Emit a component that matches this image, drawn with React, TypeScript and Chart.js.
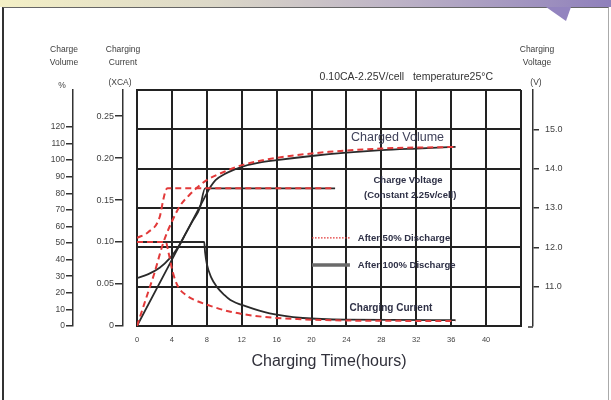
import React, { useEffect, useRef } from 'react';
import { Chart, registerables } from 'chart.js';

Chart.register(...registerables);

// ---- axis ticks ----
const timeTicks = [0, 4, 8, 12, 16, 20, 24, 28, 32, 36, 40];
const timeMax = 44;
const volumeTicks = [0, 10, 20, 30, 40, 50, 60, 70, 80, 90, 100, 110, 120];
const volumeMax = 142.3;
const currentTicks = [0, 0.05, 0.1, 0.15, 0.2, 0.25];
const currentMax = 0.281;
const voltageTicks = [11, 12, 13, 14, 15];
const voltageMin = 10;
const voltageMax = 16;
const gridRows = [0, 1, 2, 3, 4, 5, 6];

// ---- After 50% discharge (red dashed) ----
const vol50Hours = [0, 1, 2, 3, 4, 5, 6, 7, 8, 10, 12, 14.5, 17.5, 22, 28, 36.5];
const vol50Values = [0, 16, 32, 50, 63, 73, 79, 84, 88, 93, 97, 100, 102.5, 105, 107, 108];
const volt50Hours = [0, 1.3, 2.6, 3.0, 3.3, 3.5, 22.7];
const volt50Values = [12.24, 12.39, 12.77, 13.2, 13.45, 13.5, 13.5];
const cur50Hours = [0, 3.3, 3.6, 4.1, 4.7, 5.6, 6.6, 8.4, 10.7, 14.4, 19, 24, 36.5];
const cur50Values = [0.1, 0.1, 0.088, 0.064, 0.047, 0.037, 0.031, 0.024, 0.017, 0.011, 0.008, 0.0065, 0.006];

// ---- After 100% discharge (black solid) ----
const vol100Hours = [0, 7.5, 8, 8.5, 9, 10, 11, 12, 14, 16, 20, 24, 28, 32, 36.5];
const vol100Values = [0, 75, 80, 84.5, 88, 91.5, 94, 96, 98.5, 100, 102.5, 104.5, 106, 107, 108];
const volt100Hours = [0, 1.3, 2.6, 3.8, 4.7, 5.6, 6.4, 7.2, 7.8, 22.7];
const volt100Values = [11.22, 11.32, 11.48, 11.73, 12.0, 12.36, 12.68, 13.0, 13.5, 13.5];
const cur100Hours = [0, 7.7, 7.8, 8.0, 8.5, 9.2, 10, 10.7, 12.6, 15.2, 19, 24, 36.5];
const cur100Values = [0.1, 0.1, 0.088, 0.074, 0.058, 0.046, 0.037, 0.031, 0.023, 0.015, 0.0095, 0.0075, 0.007];

// ---- texts ----
const headerVolume = ['Charge', 'Volume'];
const headerCurrent = ['Charging', 'Current'];
const headerVoltage = ['Charging', 'Voltage'];
const conditionText = '0.10CA-2.25V/cell   temperature25°C';
const legend50 = 'After 50% Discharge';
const legend100 = 'After 100% Discharge';

const FONT = '"Liberation Sans", Arial, sans-serif';
const RED = '#e23a3a';
const BLACK = '#2a2a2a';
const GRID = '#222';
const TICK = '#444';

const pts = (xs: number[], ys: number[]) => xs.map((x, i) => ({ x, y: ys[i] }));

const redLine = (label: string, data: any, yAxisID: string) => ({
  label,
  data,
  yAxisID,
  borderColor: RED,
  borderWidth: 2,
  borderDash: [6, 4],
  pointRadius: 0,
  fill: false,
  cubicInterpolationMode: 'monotone' as const,
});
const blackLine = (label: string, data: any, yAxisID: string) => ({
  label,
  data,
  yAxisID,
  borderColor: BLACK,
  borderWidth: 1.8,
  pointRadius: 0,
  fill: false,
  cubicInterpolationMode: 'monotone' as const,
});

const textPlugin = {
  id: 'chartTexts',
  afterDraw(chart: any) {
    const { ctx, chartArea, scales } = chart;
    const x = scales.x;
    const vol = scales.volume;
    const cur = scales.current;
    const volt = scales.voltage;
    const f = (size: number, weight = 'normal') => `${weight} ${size}px ${FONT}`;
    ctx.save();
    ctx.textBaseline = 'middle';
    ctx.textAlign = 'center';

    // axis headers
    ctx.fillStyle = '#3c3c3c';
    ctx.font = f(8.5);
    ctx.fillText(headerVolume[0], vol.right - 9, 50);
    ctx.fillText(headerVolume[1], vol.right - 9, 63);
    ctx.fillText('%', vol.right - 11, 86);
    ctx.fillText(headerCurrent[0], cur.right, 50);
    ctx.fillText(headerCurrent[1], cur.right, 63);
    ctx.fillText('(XCA)', cur.right - 3, 83);
    ctx.fillText(headerVoltage[0], volt.left + 4, 50);
    ctx.fillText(headerVoltage[1], volt.left + 4, 63);
    ctx.fillText('(V)', volt.left + 3, 83);

    // condition text
    ctx.textAlign = 'right';
    ctx.font = f(10.5);
    ctx.fillStyle = '#333';
    ctx.fillText(conditionText, chartArea.right - 28, 77);

    // curve labels
    ctx.textAlign = 'center';
    ctx.fillStyle = '#40425a';
    ctx.font = f(12.5);
    ctx.fillText('Charged Volume', x.getPixelForValue(29.85), vol.getPixelForValue(113.4));
    ctx.font = f(9.5, 'bold');
    ctx.fillStyle = '#2e3046';
    ctx.fillText('Charge Voltage', x.getPixelForValue(31.05), volt.getPixelForValue(13.69));
    ctx.fillText('(Constant 2.25v/cell)', x.getPixelForValue(31.3), volt.getPixelForValue(13.31));
    ctx.font = f(10, 'bold');
    ctx.fillText('Charging Current', x.getPixelForValue(29.1), cur.getPixelForValue(0.0214));

    // legend
    const lx1 = x.getPixelForValue(20.05);
    const lx2 = x.getPixelForValue(24.4);
    const ly1 = volt.getPixelForValue(12.24);
    const ly2 = volt.getPixelForValue(11.55);
    ctx.strokeStyle = RED;
    ctx.lineWidth = 1.4;
    ctx.setLineDash([1.6, 1.4]);
    ctx.beginPath();
    ctx.moveTo(lx1, ly1);
    ctx.lineTo(lx2, ly1);
    ctx.stroke();
    ctx.setLineDash([]);
    ctx.strokeStyle = '#6a6a6a';
    ctx.lineWidth = 3.5;
    ctx.beginPath();
    ctx.moveTo(lx1, ly2);
    ctx.lineTo(lx2, ly2);
    ctx.stroke();
    ctx.textAlign = 'left';
    ctx.font = f(9.5, 'bold');
    ctx.fillStyle = '#2e3046';
    const tx = x.getPixelForValue(25.3);
    ctx.fillText(legend50, tx, ly1);
    ctx.fillText(legend100, tx, ly2);

    // small foot at bottom of voltage axis
    ctx.strokeStyle = '#333';
    ctx.lineWidth = 1.5;
    ctx.beginPath();
    ctx.moveTo(volt.left - 5, chartArea.bottom + 1);
    ctx.lineTo(volt.left, chartArea.bottom + 1);
    ctx.stroke();
    ctx.restore();
  },
};

export default function App() {
  const ref = useRef<HTMLCanvasElement>(null);
  useEffect(() => {
    const chart = new Chart(ref.current as HTMLCanvasElement, {
      type: 'line',
      data: {
        datasets: [
          redLine('Volume 50%', pts(vol50Hours, vol50Values), 'volume'),
          redLine('Voltage 50%', pts(volt50Hours, volt50Values), 'voltage'),
          redLine('Current 50%', pts(cur50Hours, cur50Values), 'current'),
          blackLine('Volume 100%', pts(vol100Hours, vol100Values), 'volume'),
          blackLine('Voltage 100%', pts(volt100Hours, volt100Values), 'voltage'),
          blackLine('Current 100%', pts(cur100Hours, cur100Values), 'current'),
        ],
      },
      options: {
        responsive: false,
        animation: false,
        devicePixelRatio: 1,
        layout: { padding: { left: 40, right: 38, top: 90, bottom: 24 } },
        plugins: { legend: { display: false }, tooltip: { enabled: false } },
        scales: {
          x: {
            type: 'linear',
            position: 'bottom',
            min: 0,
            max: timeMax,
            afterBuildTicks: (s: any) => {
              s.ticks = [...timeTicks, timeMax].map((v) => ({ value: v }));
            },
            afterFit: (s: any) => {
              s.height = 50;
            },
            grid: { color: GRID, lineWidth: 2, drawTicks: false },
            border: { display: true, color: GRID, width: 2 },
            ticks: {
              autoSkip: false,
              maxRotation: 0,
              padding: 9,
              color: TICK,
              font: { size: 7.5, family: FONT },
              callback: (v: any) => (timeTicks.includes(v) ? String(v) : ''),
            },
            title: {
              display: true,
              text: 'Charging Time(hours)',
              color: '#30303a',
              font: { size: 16, family: FONT },
              padding: { top: 0, bottom: 5 },
            },
          },
          grid: {
            type: 'linear',
            position: 'left',
            weight: 0,
            min: 0,
            max: 6,
            afterBuildTicks: (s: any) => {
              s.ticks = gridRows.map((v) => ({ value: v }));
            },
            afterFit: (s: any) => {
              s.width = 14;
            },
            ticks: { display: false },
            grid: { color: GRID, lineWidth: 2, drawTicks: false },
            border: { display: true, color: GRID, width: 2 },
          },
          current: {
            type: 'linear',
            position: 'left',
            weight: 1,
            min: 0,
            max: currentMax,
            afterBuildTicks: (s: any) => {
              s.ticks = currentTicks.map((v) => ({ value: v }));
            },
            afterFit: (s: any) => {
              s.width = 50;
            },
            grid: { drawOnChartArea: false, drawTicks: true, tickLength: 8, color: '#333', lineWidth: 1.5 },
            border: { display: true, color: '#333', width: 1.5 },
            ticks: {
              padding: 1,
              color: TICK,
              font: { size: 9, family: FONT },
              callback: (v: any) => (v === 0 ? '0' : Number(v).toFixed(2)),
            },
          },
          volume: {
            type: 'linear',
            position: 'left',
            weight: 2,
            min: 0,
            max: volumeMax,
            afterBuildTicks: (s: any) => {
              s.ticks = volumeTicks.map((v) => ({ value: v }));
            },
            afterFit: (s: any) => {
              s.width = 33;
            },
            grid: { drawOnChartArea: false, drawTicks: true, tickLength: 7, color: '#333', lineWidth: 1.5 },
            border: { display: true, color: '#333', width: 1.5 },
            ticks: {
              padding: 1,
              color: TICK,
              font: { size: 8.5, family: FONT },
              callback: (v: any) => String(v),
            },
          },
          rightGap: {
            type: 'linear',
            position: 'right',
            weight: 0,
            min: 0,
            max: 1,
            afterFit: (s: any) => {
              s.width = 12;
            },
            ticks: { display: false },
            grid: { display: false },
            border: { display: false },
          },
          voltage: {
            type: 'linear',
            position: 'right',
            weight: 1,
            min: voltageMin,
            max: voltageMax,
            afterBuildTicks: (s: any) => {
              s.ticks = voltageTicks.map((v) => ({ value: v }));
            },
            afterFit: (s: any) => {
              s.width = 40;
            },
            grid: { drawOnChartArea: false, drawTicks: true, tickLength: 6, color: '#333', lineWidth: 1.5 },
            border: { display: true, color: '#333', width: 1.5 },
            ticks: {
              padding: 6,
              color: TICK,
              font: { size: 9, family: FONT },
              callback: (v: any) => Number(v).toFixed(1),
            },
          },
        },
      },
      plugins: [textPlugin],
    } as any);
    return () => chart.destroy();
  }, []);

  return (
    <div style={{ position: 'fixed', left: 0, top: 0, width: 611, height: 400, background: '#fff', overflow: 'hidden' }}>
      <div
        style={{
          position: 'absolute',
          left: 0,
          top: 0,
          width: 611,
          height: 7,
          background: 'linear-gradient(90deg, #f4f0c6 0%, #dcd8c8 35%, #bdb3c6 65%, #8f80bb 100%)',
        }}
      />
      <div
        style={{
          position: 'absolute',
          left: 2,
          top: 7,
          width: 604,
          height: 400,
          borderLeft: '2px solid #333',
          borderTop: '1px solid #666',
          borderRight: '1px solid #aaa',
        }}
      />
      <div
        style={{
          position: 'absolute',
          left: 546,
          top: 7,
          width: 25,
          height: 14,
          background: '#9384bf',
          clipPath: 'polygon(0 0, 100% 0, 80% 100%)',
        }}
      />
      <canvas ref={ref} width={611} height={400} style={{ position: 'absolute', left: 0, top: 0, width: 611, height: 400 }} />
    </div>
  );
}
